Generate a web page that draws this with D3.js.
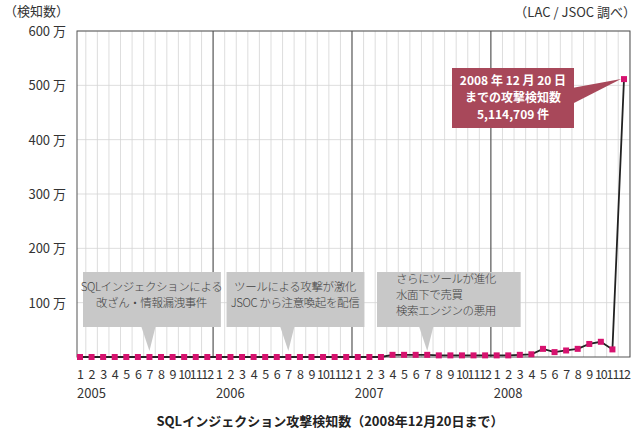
<!DOCTYPE html>
<html><head><meta charset="utf-8">
<script src="https://cdn.jsdelivr.net/npm/d3@7"></script>
<style>body{margin:0;background:#fff}text{font-family:"Noto Sans CJK JP",sans-serif}</style>
</head><body><svg id="chart"></svg>
<script>
// DATA
const years = [2005, 2006, 2007, 2008];
const months = [1,2,3,4,5,6,7,8,9,10,11,12];
// detections (万) per month, Jan 2005 .. Dec 2008
const counts = [
  0,0,0,0,0,0,0,0,0,0,0,0,
  0,0,0,0,0,0,0,0,0,0,0,0,
  0,0,0,4,4,4,4,3,3,3,3,3,
  3,3,4,5,15,9,12,15,24,28,14,511.4709
];
const yTicks = [100,200,300,400,500,600];
const notes = [
  {start: 0, end: 12, tip: 6, lines: ["SQLインジェクションによる", "改ざん・情報漏洩事件"]},
  {start: 12.4, end: 24.4, tip: 18, lines: ["ツールによる攻撃が激化", "JSOC から注意喚起を配信"]},
  {start: 25.4, end: 37.9, tip: 30, lines: ["さらにツールが進化", "水面下で売買", "検索エンジンの悪用"]}
];

const W = 644, H = 433;
const svg = d3.select("#chart").attr("width", W).attr("height", H);
const x = d3.scaleLinear().domain([0, 47]).range([80, 624]);
const y = d3.scaleLinear().domain([0, 600]).range([357, 31]);
const left = 77, right = 630;

// GRID
svg.append("g").selectAll("line").data(d3.range(48)).join("line")
  .attr("x1", d => x(d) + 5.8).attr("x2", d => x(d) + 5.8)
  .attr("y1", y(600)).attr("y2", y(0))
  .attr("stroke", "#d4d4d4").attr("stroke-width", 0.8);
svg.append("g").selectAll("line").data(yTicks).join("line")
  .attr("x1", left).attr("x2", right).attr("y1", d => y(d)).attr("y2", d => y(d))
  .attr("stroke", "#d4d4d4").attr("stroke-width", 0.8);
svg.append("g").selectAll("line").data(years.slice(1)).join("line")
  .attr("x1", (d, i) => x((i + 1) * 12) - 5.8).attr("x2", (d, i) => x((i + 1) * 12) - 5.8)
  .attr("y1", y(600)).attr("y2", y(0)).attr("stroke", "#444").attr("stroke-width", 1);
svg.append("rect").attr("x", left).attr("y", y(600)).attr("width", right - left)
  .attr("height", y(0) - y(600)).attr("fill", "none").attr("stroke", "#555").attr("stroke-width", 1);

// Y LABELS
svg.append("g").selectAll("text").data(yTicks).join("text")
  .attr("x", 66).attr("y", d => y(d) + 5).attr("text-anchor", "end")
  .attr("font-size", 13).attr("fill", "#333").text(d => d + " 万");
svg.append("text").attr("x", 4).attr("y", 16).attr("font-size", 13).attr("fill", "#333").text("（検知数）");
svg.append("text").attr("x", 636).attr("y", 17).attr("text-anchor", "end").attr("font-size", 13).attr("fill", "#333").text("（LAC / JSOC 調べ）");

// X LABELS
svg.append("g").selectAll("text").data(counts).join("text")
  .attr("x", (d, i) => x(i)).attr("y", 379).attr("text-anchor", "middle")
  .attr("font-size", 12.5).attr("fill", "#333").attr("letter-spacing", -1)
  .text((d, i) => months[i % 12]);
svg.append("g").selectAll("text").data(years).join("text")
  .attr("x", (d, i) => x(i * 12) - 3).attr("y", 398)
  .attr("font-size", 13).attr("fill", "#333").text(d => d);
svg.append("text").attr("x", 330).attr("y", 426).attr("text-anchor", "middle")
  .attr("font-size", 13).attr("font-weight", "bold").attr("fill", "#222")
  .text("SQLインジェクション攻撃検知数（2008年12月20日まで）");

// NOTES
const ng = svg.append("g").selectAll("g").data(notes).join("g");
ng.append("rect").attr("x", d => x(d.start) + 3).attr("y", 272)
  .attr("width", d => x(d.end) - x(d.start) - 1).attr("height", 55).attr("fill", "#c8c8c8");
ng.append("path").attr("d", d => `M${x(d.tip) - 8},327 L${x(d.tip)},351 L${x(d.tip) + 6},327Z`).attr("fill", "#c8c8c8");
ng.each(function (d) {
  const n = d.lines.length;
  const cx = n === 3 ? x(d.start) + 22 : (x(d.start) + x(d.end)) / 2 + 2;
  d3.select(this).selectAll("text").data(d.lines).join("text")
    .attr("x", cx).attr("y", (t, i) => 299 - (n - 1) * 8 + i * 16)
    .attr("text-anchor", n === 3 ? "start" : "middle")
    .attr("font-size", 11.5).attr("font-weight", 300).attr("letter-spacing", -0.4)
    .attr("fill", "#444").text(t => t);
});

// LINE
svg.append("path").datum(counts)
  .attr("d", d3.line().x((d, i) => x(i)).y(d => y(d)))
  .attr("fill", "none").attr("stroke", "#222").attr("stroke-width", 1.8);
svg.append("g").selectAll("rect").data(counts).join("rect")
  .attr("x", (d, i) => x(i) - 3).attr("y", d => y(d) - 3)
  .attr("width", 6).attr("height", 6).attr("fill", "#d6136f");

// CALLOUT
const last = counts.length - 1;
svg.append("path").attr("d", `M572,88 L${x(last) - 3},${y(counts[last])} L572,104Z`).attr("fill", "#a8485a");
svg.append("rect").attr("x", 452).attr("y", 68).attr("width", 122).attr("height", 60).attr("fill", "#a8485a");
svg.append("g").selectAll("text").data(["2008 年 12 月 20 日", "までの攻撃検知数", "5,114,709 件"]).join("text")
  .attr("x", 513).attr("y", (d, i) => 85 + i * 17).attr("text-anchor", "middle")
  .attr("font-size", 12).attr("font-weight", "bold").attr("fill", "#fff").text(d => d);
</script></body></html>
